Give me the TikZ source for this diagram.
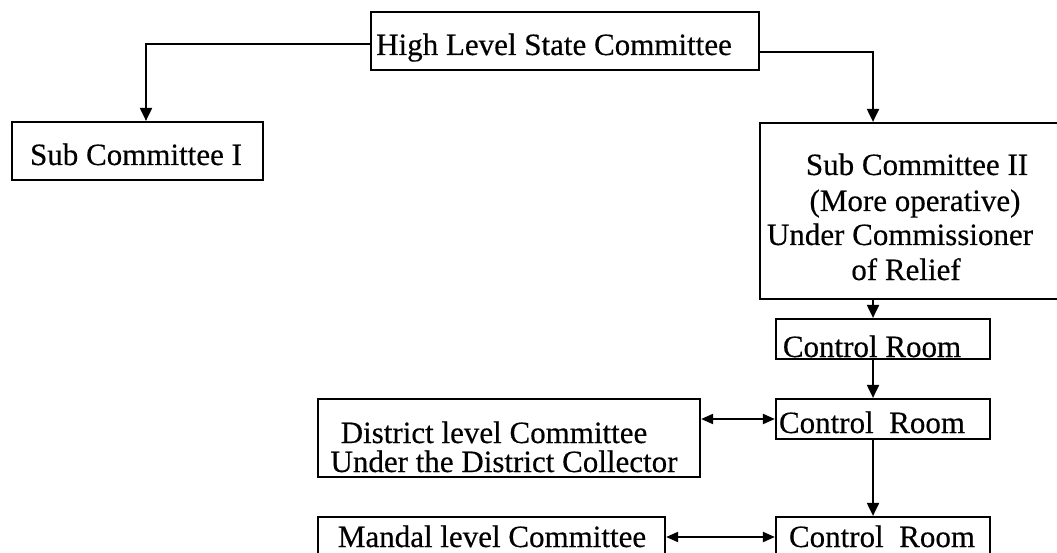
\documentclass[tikz,border=0pt]{standalone}
\usepackage{fontspec}
\setmainfont{Liberation Serif}[FakeBold=0.4]
\usetikzlibrary{arrows.meta}
\begin{document}
\begin{tikzpicture}[x=1pt,y=-1pt,
  box/.style={draw, line width=2.2pt, inner sep=0pt},
  txt/.style={inner sep=0pt, anchor=base, font=\fontsize{31}{35}\selectfont},
  conn/.style={line width=2pt, -{Triangle[length=13pt,width=12pt]}},
  conn2/.style={line width=2pt, {Triangle[length=12pt,width=10pt]}-{Triangle[length=12pt,width=10pt]}}]
\useasboundingbox (0,0) rectangle (1057,553);
\clip (0,0) rectangle (1057,553);
% boxes
\node[box, minimum width=388pt, minimum height=58pt] (hl) at (565,41) {};
\node[box, minimum width=251pt, minimum height=58pt] (s1) at (137.5,151) {};
\node[box, minimum width=300pt, minimum height=176pt] (s2) at (910,211) {};
\node[box, minimum width=214pt, minimum height=40pt] (cr1) at (883,339) {};
\node[box, minimum width=214pt, minimum height=40pt] (cr2) at (883,419) {};
\node[box, minimum width=214pt, minimum height=40pt] (cr3) at (883,537) {};
\node[box, minimum width=382pt, minimum height=78pt] (dl) at (509,438) {};
\node[box, minimum width=347pt, minimum height=40pt] (ml) at (491.5,537) {};
% texts
\node[txt] (hlt) at (554,55) {High Level State Committee};
\node[txt] (s1t) at (136,165) {Sub Committee I};
\node[txt] (s2a) at (917,175) {Sub Committee II};
\node[txt] (s2b) at (915,211) {(More operative)};
\node[txt] (s2c) at (900,245) {Under Commissioner};
\node[txt] (s2d) at (906,280) {of Relief};
\node[txt] (cr1t) at (872,357) {Control Room};
\node[txt] (cr2t) at (872,433) {Control\ \ Room};
\node[txt] (cr3t) at (882,547) {Control\ \ Room};
\node[txt] (dlta) at (494,443) {District level Committee};
\node[txt] (dltb) at (504,472) {Under the District Collector};
\node[txt] (mlt) at (492,547) {Mandal level Committee};
% connectors
\coordinate (col) at (873,0);
\coordinate (lc) at (146,0);
\draw[conn] (hl.west |- 0,44) -| (lc |- s1.north);
\draw[conn] (hl.east |- 0,52) -| (col |- s2.north);
\draw[conn] (col |- s2.south) -- (col |- cr1.north);
\draw[conn] (col |- cr1.south) -- (col |- cr2.north);
\draw[conn] (col |- cr2.south) -- (col |- cr3.north);
\draw[conn2] (cr2.west -| dl.east) -- (cr2.west);
\draw[conn2] (ml.east) -- (cr3.west);
\end{tikzpicture}
\end{document}
